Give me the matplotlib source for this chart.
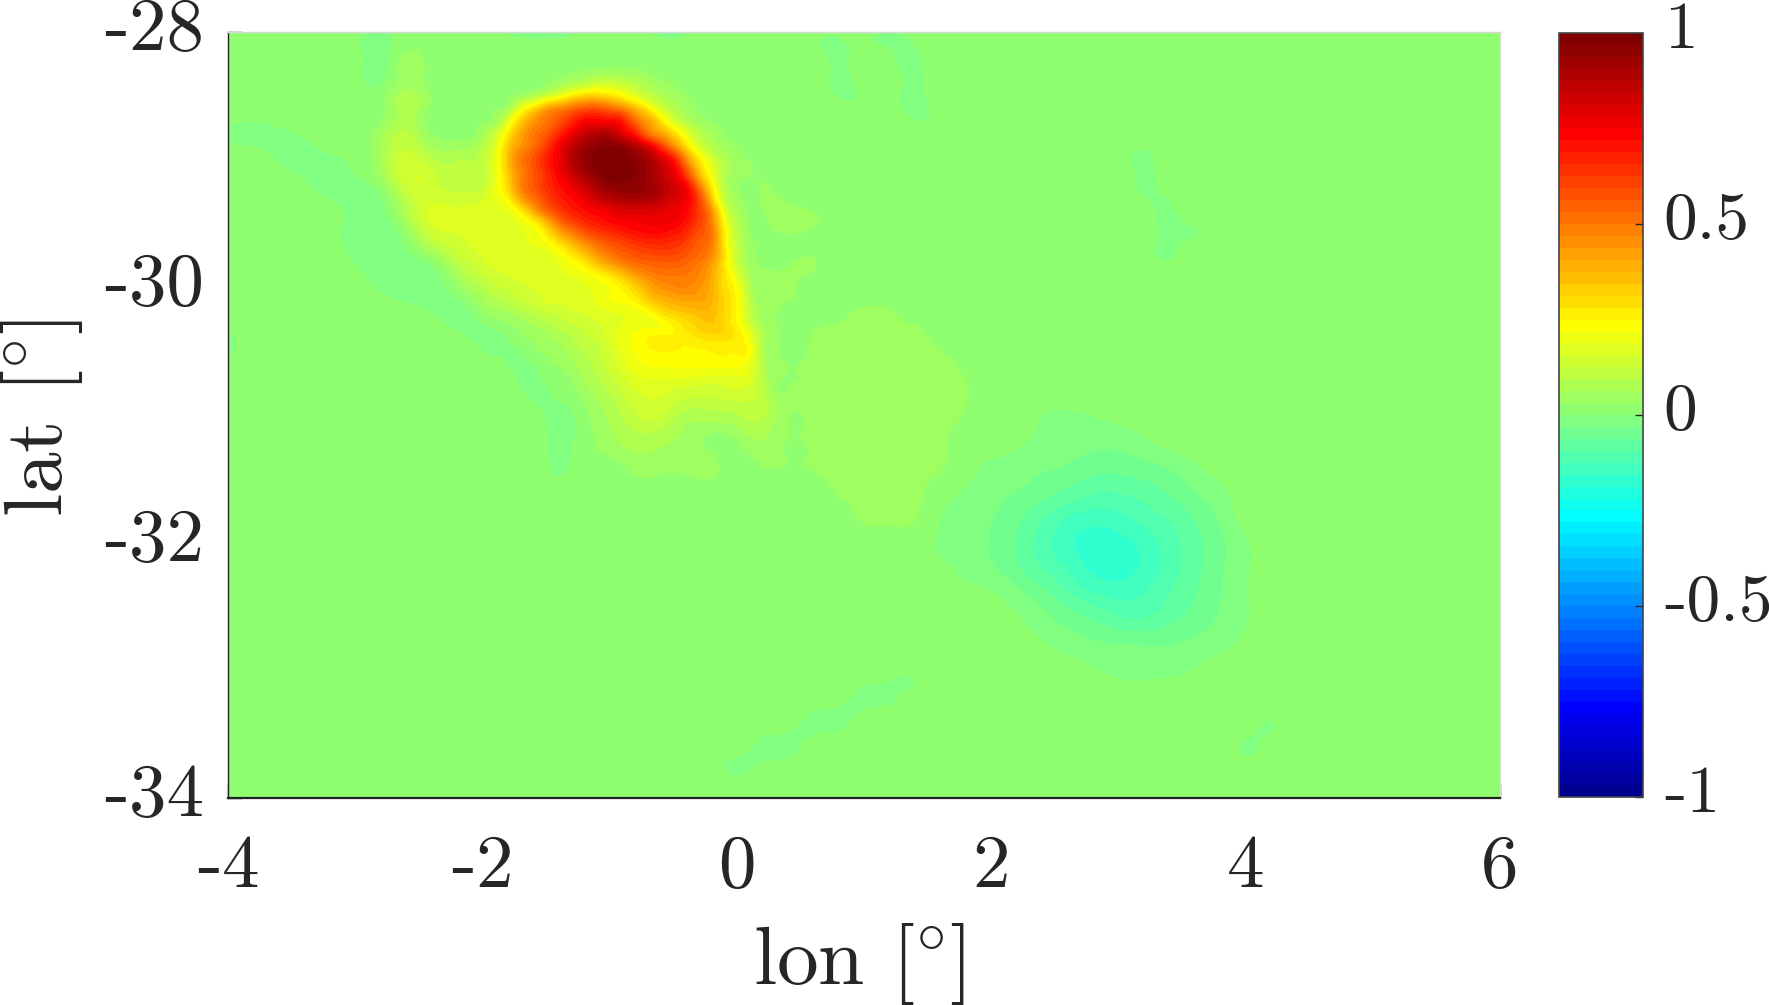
#!/usr/bin/env python3
"""
Filled contour map of the normalised anomaly, lon/lat window.
"""

import numpy as np
import matplotlib
matplotlib.use('Agg')
import matplotlib.pyplot as plt
import matplotlib.tri as mtri
from matplotlib.colors import ListedColormap
from matplotlib.transforms import ScaledTranslation

plt.rcParams['font.family'] = ['cmr10', 'DejaVu Sans']
plt.rcParams['axes.unicode_minus'] = False
plt.rcParams['axes.formatter.use_mathtext'] = True
plt.rcParams['mathtext.fontset'] = 'cm'

# grid nodes, values in thousandths
lon = np.round(np.arange(-4.0, 6.01, 0.2), 1)
lat = np.round(np.arange(-28.0, -34.01, -0.2), 1)
background = 15

# west part: lon -4.0 .. 0.8, lat -28.0 .. -31.6
west_rows = [
    [15, 15, 15, 15, 15, 15, -10, 15, 15, 15, 15, -5, -10, -10, 5, 15, 15, -10, -5, 15, 15, 15, 15, 15, 15],
    [15, 15, 15, 15, 15, 15, -15, 40, 15, 15, 15, 15, 15, 15, 15, 15, 15, 15, 15, 15, 15, 15, 15, 15, 15],
    [15, 15, 15, 15, 15, 15, -5, 50, 15, 15, 15, 15, 15, 50, 120, 130, 90, 40, 15, 15, 15, 15, 15, 15, 15],
    [15, 15, 15, 15, 15, 15, 15, 80, 20, 15, 30, 80, 300, 500, 580, 580, 420, 180, 60, 30, 15, 15, 15, 15, 15],
    [-5, -10, -5, 3, 15, 15, 50, 100, 30, 20, 70, 380, 600, 750, 850, 880, 800, 550, 250, 80, 40, 15, 15, 15, 15],
    [15, 15, -3, -10, -5, 5, 60, 140, 100, 90, 120, 450, 620, 780, 930, 1000, 980, 800, 580, 200, 70, 40, 15, 15, 15],
    [15, 15, 15, 3, -10, -10, 25, 130, 140, 100, 120, 400, 580, 720, 820, 920, 930, 850, 720, 400, 50, 40, 20, 15, 15],
    [15, 15, 15, 15, 10, -15, -10, 80, 165, 160, 180, 260, 480, 620, 700, 750, 800, 800, 720, 500, 120, 60, 60, 30, 10],
    [15, 15, 15, 15, 10, -15, -20, 20, 125, 150, 210, 210, 240, 380, 520, 620, 700, 720, 650, 470, 150, 50, 20, 25, 15],
    [15, 15, 15, 15, 15, -3, -20, -15, 12, 100, 170, 200, 210, 220, 270, 420, 550, 580, 550, 420, 180, 50, 10, 33, 15],
    [15, 15, 15, 15, 15, 15, -5, -15, -15, 25, 100, 140, 180, 190, 200, 220, 320, 450, 470, 400, 230, 60, 10, 15, 15],
    [15, 15, 15, 15, 15, 15, 15, 10, 0, -15, 30, 60, 100, 130, 160, 190, 210, 280, 330, 360, 240, 70, 10, 15, 15],
    [15, 15, 15, 15, 15, 15, 15, 15, 5, -10, -15, -10, 30, 70, 120, 170, 220, 250, 250, 290, 270, 70, 10, 15, 15],
    [15, 15, 15, 15, 15, 15, 15, 15, 15, 15, 5, -15, -15, 30, 80, 140, 200, 210, 220, 230, 230, 80, 15, 15, 15],
    [15, 15, 15, 15, 15, 15, 15, 15, 15, 15, 15, 0, -15, -5, 50, 100, 160, 170, 150, 150, 160, 120, 15, 15, 15],
    [15, 15, 15, 15, 15, 15, 15, 15, 15, 15, 15, 15, 15, 15, 20, 70, 120, 130, 80, 80, 90, 100, 35, 15, 15],
    [15, 15, 15, 15, 15, 15, 15, 15, 15, 15, 15, 15, 15, 15, 15, 50, 80, 70, 50, 20, 30, 60, 30, 15, 15],
    [15, 15, 15, 15, 15, 15, 15, 15, 15, 15, 15, 15, 15, 15, 15, 20, 40, 40, 40, 40, 10, 30, 30, 15, 15],
    [15, 15, 15, 15, 15, 15, 15, 15, 15, 15, 15, 15, 15, 15, 15, 15, 20, 15, 15, 15, 15, 15, 15, 15, 15],
]

# main vortex at finer spacing: lon -2.2 .. 0.4, lat -28.2 .. -30.8
core_lon = np.round(np.arange(-2.2, 0.41, 0.1), 1)
core_lat = np.round(np.arange(-28.2, -30.81, -0.1), 1)
core_rows = [
    [15, 15, 15, 15, 15, 15, 15, 15, 15, 15, 15, 15, 15, 15, 15, 15, 15, 15, 15, 15, 15, 15, 15, 15, 15, 15, 15],
    [15, 15, 15, 15, 15, 15, 15, 15, 15, 25, 32, 38, 40, 38, 33, 25, 15, 15, 15, 15, 15, 15, 15, 15, 15, 15, 15],
    [15, 15, 15, 15, 15, 15, 15, 28, 50, 75, 100, 130, 130, 115, 90, 65, 40, 28, 15, 15, 15, 15, 15, 15, 15, 15, 15],
    [15, 15, 15, 15, 25, 45, 80, 130, 190, 260, 310, 320, 290, 240, 175, 120, 80, 50, 30, 15, 15, 15, 15, 15, 15, 15, 15],
    [15, 15, 15, 28, 60, 190, 290, 400, 460, 510, 560, 570, 530, 470, 370, 260, 150, 90, 50, 28, 15, 15, 15, 15, 15, 15, 15],
    [15, 15, 25, 50, 170, 320, 430, 500, 570, 650, 730, 740, 730, 680, 530, 420, 290, 160, 90, 50, 28, 15, 15, 15, 15, 15, 15],
    [20, 20, 60, 130, 270, 400, 490, 560, 660, 760, 840, 880, 880, 790, 690, 520, 420, 310, 190, 100, 60, 30, 15, 15, 15, 15, 15],
    [50, 55, 90, 170, 330, 440, 520, 620, 740, 840, 920, 960, 970, 950, 890, 790, 640, 470, 300, 160, 90, 50, 30, 15, 15, 15, 15],
    [90, 90, 110, 190, 350, 490, 570, 670, 760, 870, 940, 985, 1000, 990, 960, 910, 810, 690, 460, 280, 150, 80, 45, 25, 15, 15, 15],
    [100, 100, 110, 190, 330, 470, 560, 650, 740, 830, 910, 965, 995, 990, 970, 930, 860, 770, 590, 360, 200, 90, 50, 35, 15, 15, 15],
    [105, 105, 115, 190, 310, 470, 560, 640, 710, 770, 840, 905, 950, 960, 955, 930, 885, 820, 720, 490, 260, 90, 35, 15, 35, 15, 15],
    [140, 145, 150, 195, 250, 400, 510, 600, 670, 720, 770, 830, 870, 900, 910, 900, 860, 810, 760, 600, 340, 120, 50, 10, 35, 40, 20],
    [160, 165, 170, 175, 190, 260, 390, 520, 610, 670, 710, 740, 770, 800, 800, 800, 790, 770, 730, 620, 440, 180, 70, 20, 25, 45, 45],
    [170, 175, 180, 180, 180, 190, 240, 350, 490, 580, 640, 680, 710, 730, 745, 755, 755, 740, 690, 610, 480, 240, 90, 30, 15, 45, 50],
    [150, 170, 180, 180, 180, 185, 195, 250, 350, 440, 520, 580, 620, 650, 680, 700, 700, 680, 640, 570, 500, 270, 110, 35, 15, 20, 25],
    [130, 150, 165, 175, 180, 180, 185, 190, 240, 310, 390, 470, 530, 570, 600, 620, 630, 620, 590, 540, 470, 280, 120, 45, 20, 15, 15],
    [100, 125, 150, 165, 175, 180, 180, 180, 190, 230, 280, 360, 430, 490, 530, 550, 560, 560, 540, 500, 430, 280, 130, 50, 25, 15, 25],
    [60, 100, 125, 145, 160, 170, 175, 175, 180, 190, 205, 240, 290, 350, 420, 470, 500, 505, 500, 470, 400, 290, 170, 65, 35, 35, 35],
    [25, 60, 90, 115, 130, 145, 160, 165, 170, 175, 185, 195, 220, 260, 320, 390, 440, 460, 470, 440, 390, 300, 220, 80, 40, 35, 35],
    [-8, 20, 55, 85, 100, 125, 140, 160, 165, 165, 175, 190, 215, 225, 255, 320, 370, 395, 410, 410, 380, 310, 240, 100, 45, 35, 32],
    [-15, -5, 25, 45, 60, 80, 100, 120, 130, 150, 155, 170, 180, 190, 200, 225, 280, 320, 340, 360, 360, 310, 240, 120, 55, 35, 15],
    [-8, -15, -5, 10, 25, 40, 60, 80, 100, 120, 130, 150, 165, 190, 205, 210, 215, 250, 290, 320, 340, 310, 250, 150, 65, 35, 15],
    [15, -5, -15, -12, 0, 25, 35, 50, 70, 90, 120, 130, 165, 200, 225, 250, 260, 255, 260, 280, 290, 290, 270, 200, 80, 35, 15],
    [15, 15, 0, -10, -15, 0, 25, 35, 50, 70, 95, 115, 150, 190, 220, 240, 250, 250, 245, 245, 250, 260, 255, 230, 85, 35, 20],
    [15, 15, 15, 15, -5, -15, -2, 20, 35, 55, 80, 105, 140, 175, 205, 220, 225, 225, 230, 230, 230, 230, 225, 190, 90, 40, 30],
    [15, 15, 15, 15, 15, -15, -18, 15, 20, 35, 65, 90, 120, 150, 180, 190, 195, 190, 190, 185, 180, 180, 185, 170, 95, 40, 30],
    [15, 15, 15, 15, 15, 0, -15, -10, 20, 25, 50, 75, 100, 130, 155, 165, 165, 155, 150, 145, 140, 150, 155, 145, 105, 40, 30],
]

# cyclonic eddy: lon 1.4 .. 4.2, lat -31.0 .. -33.0
eddy_rows = [
    [15, 15, 15, 15, 12, 0, -3, 0, 8, 12, 15, 15, 15, 15, 15],
    [15, 15, 15, 12, 5, -5, -12, -20, -18, -5, 12, 15, 15, 15, 15],
    [15, 15, 10, -5, -15, -25, -35, -50, -50, -42, -28, -5, 12, 15, 15],
    [15, 12, -3, -18, -32, -50, -70, -90, -92, -80, -60, -32, -8, 15, 15],
    [15, 0, -15, -30, -55, -90, -125, -142, -135, -112, -90, -60, -25, 10, 15],
    [15, -5, -18, -33, -65, -110, -150, -170, -168, -145, -110, -75, -40, -5, 15],
    [15, 8, -12, -27, -58, -95, -130, -165, -172, -148, -112, -75, -37, -5, 15],
    [15, 15, 10, 2, -22, -52, -90, -122, -135, -125, -95, -65, -33, -3, 15],
    [15, 15, 15, 12, 3, -20, -45, -66, -88, -92, -72, -50, -27, -3, 15],
    [15, 15, 15, 15, 15, 3, -12, -25, -30, -33, -32, -22, -10, 8, 15],
    [15, 15, 15, 15, 15, 15, 12, 2, -8, -10, -8, 0, 12, 15, 15],
]

# weak positive patch: lon 0.6 .. 1.8, lat -30.2 .. -31.8
patch_rows = [
    [15, 25, 35, 33, 20, 15, 15],
    [35, 42, 45, 45, 42, 22, 15],
    [40, 45, 50, 50, 45, 38, 25],
    [40, 45, 50, 50, 45, 42, 33],
    [40, 45, 50, 50, 45, 40, 28],
    [38, 42, 45, 45, 42, 38, 15],
    [33, 38, 42, 42, 40, 33, 10],
    [20, 33, 40, 40, 36, 15, -3],
    [15, 15, 36, 38, 33, 0, -15],
]

# thin weakly negative filaments, loose nodes along their axes
spot_lon = [-0.05, 0.05, 0.15, 0.25, 0.35, 0.45, 0.55, 0.65, 0.75, 0.85, 0.95, 1.05, 1.15, 1.25, 1.33,
            3.12, 3.16, 3.2, 3.25, 3.3, 3.32, 3.34, 3.37, 3.4, 3.38, 3.35, 3.47, 3.55,
            1.22, 1.26, 1.3, 1.35, 1.4, 1.45, 1.5, 0.68, 0.75, 0.82, 0.92,
            4.15, 4.1, 4.05, -3.95,
            -1.5, -1.45, -1.42, -1.4, -1.38]
spot_lat = [-33.78, -33.73, -33.7, -33.64, -33.6, -33.54, -33.49, -33.43, -33.39, -33.33, -33.28, -33.22, -33.16, -33.1, -33.06,
            -28.99, -29.07, -29.15, -29.22, -29.3, -29.38, -29.45, -29.53, -29.6, -29.68, -29.75, -29.57, -29.55,
            -28.02, -28.1, -28.2, -28.3, -28.4, -28.52, -28.65, -28.08, -28.2, -28.32, -28.5,
            -33.42, -33.52, -33.65, -30.45,
            -30.9, -31.05, -31.2, -31.35, -31.45]
spot_val = [-5, -8, -8, -8, -8, -8, -8, -8, -8, -8, -8, -8, -8, -8, -5,
            -5, -5, -5, -5, -5, -5, -5, -5, -5, -5, -5, -3, -3,
            -5, -5, -5, -5, -5, -5, -3, -5, -5, -5, -3,
            -2, -2, -2, -2,
            -10, -10, -8, -6, -3]

xticks = [-4, -2, 0, 2, 4, 6]
yticks = [-34, -32, -30, -28]
cticks = [-1, -0.5, 0, 0.5, 1]

TXT = '#262626'


def matlab_jet():
    k = np.arange(1, 65)
    r = np.clip(np.minimum(k - 24, 72 - k) / 16, 0, 1)
    g = np.clip(np.minimum(k - 8, 56 - k) / 16, 0, 1)
    b = np.clip(np.minimum(k + 8, 40 - k) / 16, 0, 1)
    return ListedColormap(np.column_stack([r, g, b]))


def build_nodes():
    z = np.full((len(lat), len(lon)), float(background))
    z[:len(west_rows), :len(west_rows[0])] = west_rows
    i0, j0 = np.argmin(abs(lat + 31.0)), np.argmin(abs(lon - 1.4))
    z[i0:i0 + len(eddy_rows), j0:j0 + len(eddy_rows[0])] = eddy_rows
    i0, j0 = np.argmin(abs(lat + 30.2)), np.argmin(abs(lon - 0.6))
    z[i0:i0 + len(patch_rows), j0:j0 + len(patch_rows[0])] = patch_rows

    X, Y = np.meshgrid(lon, lat)
    # the finer block replaces the coarse nodes inside its window
    keep = ~((X >= core_lon[0]) & (X <= core_lon[-1]) & (Y <= core_lat[0]) & (Y >= core_lat[-1]))
    # coarse nodes too close to a filament would break it up
    for x, y in zip(spot_lon, spot_lat):
        keep &= np.hypot(X - x, Y - y) > 0.11
    Xc, Yc = np.meshgrid(core_lon, core_lat)
    xs = np.concatenate([X[keep], Xc.ravel(), spot_lon])
    ys = np.concatenate([Y[keep], Yc.ravel(), spot_lat])
    zs = np.concatenate([z[keep], np.array(core_rows, dtype=float).ravel(), spot_val])
    return xs, ys, zs / 1000.0


fig = plt.figure(figsize=(17.69, 10.05), dpi=100)
ax = fig.add_axes([228 / 1769, 1 - 798 / 1005, 1272 / 1769, 766 / 1005])
cax = fig.add_axes([1559 / 1769, 1 - 797 / 1005, 84 / 1769, 764 / 1005])

xs, ys, zs = build_nodes()
tri = mtri.Triangulation(xs, ys)
tri_fine, z_fine = mtri.UniformTriRefiner(tri).refine_field(zs, subdiv=3)
z_fine = np.clip(z_fine, -0.999, 0.999)

levels = np.linspace(-1, 1, 65)
cs = ax.tricontourf(tri_fine, z_fine, levels=levels, cmap=matlab_jet(), vmin=-1, vmax=1)

ax.set_xlim(-4, 6)
ax.set_ylim(-34, -28)
ax.set_axisbelow(True)
ax.set_xticks(xticks)
ax.set_xticklabels([str(v) for v in xticks])
ax.set_yticks(yticks)
ax.set_yticklabels([str(v) for v in yticks])
ax.tick_params(direction='in', length=10, width=1, colors=TXT, labelsize=54)
ax.tick_params(axis='x', pad=26)
ax.tick_params(axis='y', pad=17)
ax.set_xlabel(r'lon $[\!^\circ\!]$', fontsize=60, color=TXT, labelpad=14, x=0.4956)
ax.set_ylabel(r'lat $[\!^\circ\!]$', fontsize=60, color=TXT, labelpad=14, y=0.4956)
ax.spines['left'].set_color('#222222')
ax.spines['left'].set_linewidth(1.0)
ax.spines['bottom'].set_color('#222222')
ax.spines['bottom'].set_linewidth(1.6)
for side in ['top', 'right']:
    ax.spines[side].set_color('#d8d8d8')
    ax.spines[side].set_linewidth(1.0)

cb = fig.colorbar(cs, cax=cax, ticks=cticks)
cb.ax.set_yticklabels(['-1', '-0.5', '0', '0.5', '1'])
cb.ax.tick_params(direction='in', length=6, width=1, colors=TXT, labelsize=48.5, pad=15)
cb.outline.set_edgecolor('#444444')
cb.outline.set_linewidth(1.2)
cb.ax.minorticks_off()

# labels sit a little above their ticks in the reference
lift = ScaledTranslation(0, 6 / 72, fig.dpi_scale_trans)
for t in ax.get_yticklabels() + cb.ax.get_yticklabels():
    t.set_transform(t.get_transform() + lift)

plt.savefig('out.png', dpi=100)
plt.close()
